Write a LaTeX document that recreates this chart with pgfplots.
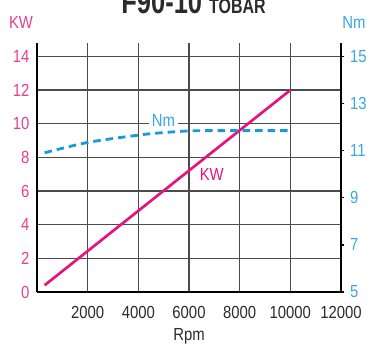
\documentclass[border=0pt]{standalone}
\usepackage{pgfplots}
\pgfplotsset{compat=1.18}
\usepackage{fontspec}
\setmainfont{Liberation Sans}[FakeStretch=0.85]
\definecolor{kwpink}{HTML}{E6127D}
\definecolor{kwlab}{HTML}{EA3D8F}
\definecolor{nmblue}{HTML}{1A9AD7}
\definecolor{nmlab}{HTML}{3AA7E0}
\definecolor{titlegray}{HTML}{2B2B2B}

\begin{document}
\begin{tikzpicture}[font=\fontsize{10.5}{12}\selectfont]
% left axis: KW
\begin{axis}[
    scale only axis,
    width=182.4pt, height=149.4pt,
    at={(0,0)}, anchor=south west,
    xmin=0, xmax=12000, ymin=0, ymax=14.8,
    axis x line*=bottom, axis y line*=left,
    axis line style={line width=1.4pt, black, -},
    xtick={2000,4000,...,12000},
    ytick={0,2,...,14},
    scaled x ticks=false,
    xticklabel style={/pgf/number format/1000 sep={}, text=titlegray, yshift=-5pt},
    yticklabel style={text=kwlab, xshift=-1pt},
    /pgf/number format/assume math mode=true,
    tick style={draw=none},
    grid=major,
    grid style={black!70, line width=0.8pt},
    xlabel={Rpm}, xlabel style={text=titlegray, yshift=1pt},
    clip=false,
]
\addplot[kwpink, line width=1.6pt] coordinates {
    (300,0.4)
    (10000,12)
};
\node[text=kwpink] at (axis cs:6900,6.96) {KW};
\node[text=nmlab, fill=white, inner sep=1.5pt] at (axis cs:4994,10.18) {Nm};
\end{axis}
% right axis: Nm
\begin{axis}[
    scale only axis,
    width=182.4pt, height=149.4pt,
    at={(0,0)}, anchor=south west,
    xmin=0, xmax=12000, ymin=5, ymax=15.5714,
    axis x line=none, axis y line*=right,
    axis line style={line width=1.4pt, black, -},
    ytick={5,7,...,15},
    tick align=outside,
    major tick length=2pt,
    ytick style={black, line width=0.8pt},
    yticklabel style={text=nmlab, xshift=0pt},
    /pgf/number format/assume math mode=true,
]
\addplot[nmblue, line width=1.7pt, dash pattern=on 4.5pt off 3pt, smooth] coordinates {
    (300,10.91)
    (2000,11.35)
    (4000,11.66)
    (4800,11.75)
    (6000,11.84)
    (7000,11.85)
    (8000,11.85)
    (10000,11.85)
};
\end{axis}
\node[text=kwlab] at (-9.6pt,162pt) {KW};
\node[text=nmlab] at (190.2pt,162pt) {Nm};
\node[anchor=base west, text=titlegray, inner sep=0pt] at (50.4pt,167.4pt)
    {\scalebox{0.9}[1]{\fontsize{20}{22}\selectfont\bfseries F90-10\ \fontsize{12.5}{14}\selectfont TOBAR}};
\pgfresetboundingbox
\path (-22.2pt,-31.8pt) rectangle (198pt,175.2pt);
\end{tikzpicture}
\end{document}
